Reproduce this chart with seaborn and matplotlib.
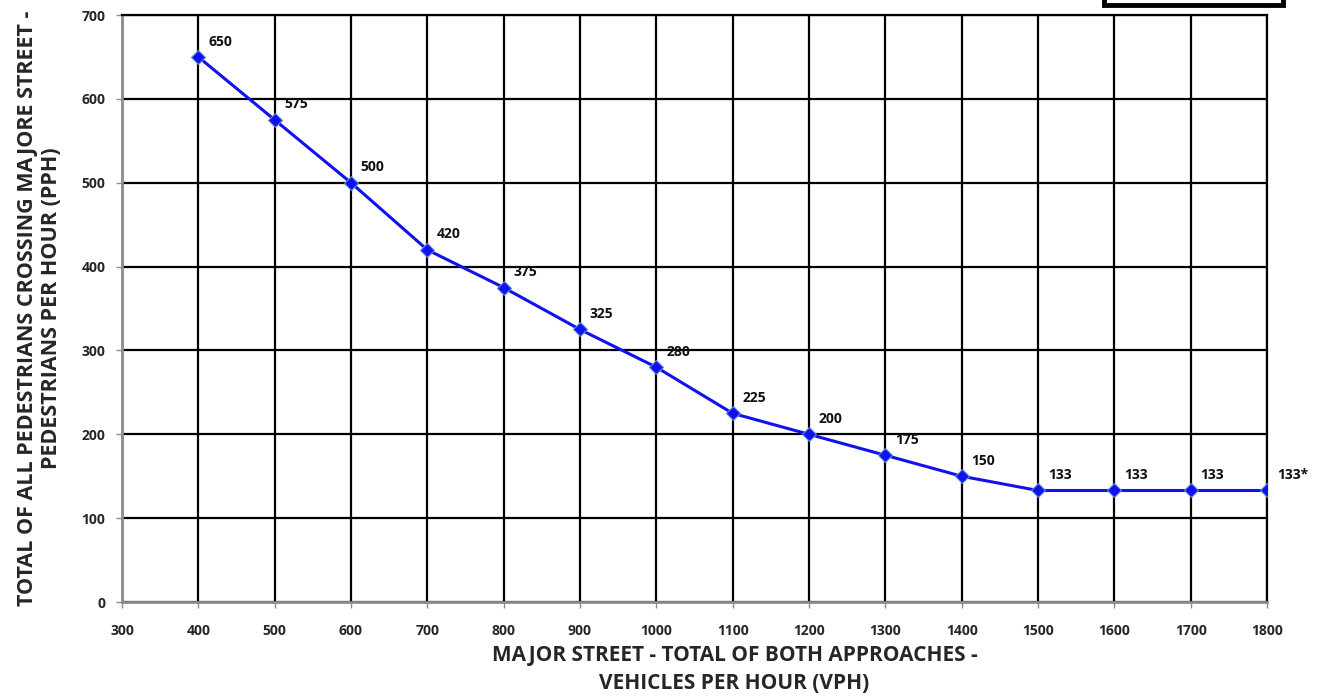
import matplotlib
matplotlib.use("Agg")
import matplotlib.pyplot as plt
import seaborn as sns
import pandas as pd

# Data
vehicles_per_hour = [400, 500, 600, 700, 800, 900, 1000, 1100, 1200, 1300, 1400, 1500, 1600, 1700, 1800]
pedestrians_per_hour = [650, 575, 500, 420, 375, 325, 280, 225, 200, 175, 150, 133, 133, 133, 133]
point_labels = ["650", "575", "500", "420", "375", "325", "280", "225", "200", "175", "150",
                "133", "133", "133", "133*"]
x_ticks = list(range(300, 1900, 100))
y_ticks = list(range(0, 800, 100))

df = pd.DataFrame({"vph": vehicles_per_hour, "pph": pedestrians_per_hour, "label": point_labels})

sns.set_style("white")
plt.rcParams["font.family"] = ["Open Sans", "DejaVu Sans"]

fig = plt.figure(figsize=(13.27, 6.98), dpi=100)
ax = fig.add_axes([0.0919, 0.1375, 0.8629, 0.841])

sns.lineplot(data=df, x="vph", y="pph", ax=ax, color="#1010f0", linewidth=2.2,
             marker="D", markersize=7, markerfacecolor="#1010f0",
             markeredgecolor="#5b8fd0", markeredgewidth=0.8, zorder=3)

# Data labels to the upper right of each point
for _, row in df.iterrows():
    ax.annotate(row["label"], (row["vph"], row["pph"]), xytext=(7, 6),
                textcoords="offset points", fontsize=10, fontweight="bold",
                ha="left", va="bottom", color="#111111")

ax.set_xlim(300, 1800)
ax.set_ylim(0, 700)
ax.set_xticks(x_ticks)
ax.set_yticks(y_ticks)
ax.grid(True, color="black", linewidth=1.6)
ax.set_axisbelow(True)

for side in ["left", "bottom"]:
    ax.spines[side].set_color("#8c8c8c")
    ax.spines[side].set_linewidth(2)
for side in ["top", "right"]:
    ax.spines[side].set_color("black")
    ax.spines[side].set_linewidth(1.6)

ax.tick_params(axis="both", length=4, width=1, color="#8c8c8c", labelsize=10,
               pad=8, direction="out", bottom=True, left=True)
for lbl in ax.get_xticklabels() + ax.get_yticklabels():
    lbl.set_fontweight("bold")
ax.tick_params(axis="x", pad=12)

ax.set_xlabel("MAJOR STREET - TOTAL OF BOTH APPROACHES -\nVEHICLES PER HOUR (VPH)",
              fontsize=15, fontweight="bold", labelpad=5, linespacing=1.45, x=0.535)
ax.set_ylabel("TOTAL OF ALL PEDESTRIANS CROSSING MAJORE STREET -\nPEDESTRIANS PER HOUR (PPH)",
              fontsize=15.5, fontweight="bold", labelpad=14, linespacing=1.2)

# Cropped box at the top right
fig.patches.append(plt.Rectangle((1104 / 1327, 1 - 5 / 698), 179 / 1327, 0.02,
                                 transform=fig.transFigure, facecolor="white",
                                 edgecolor="black", linewidth=3.5))

fig.savefig("out.png", dpi=100)
